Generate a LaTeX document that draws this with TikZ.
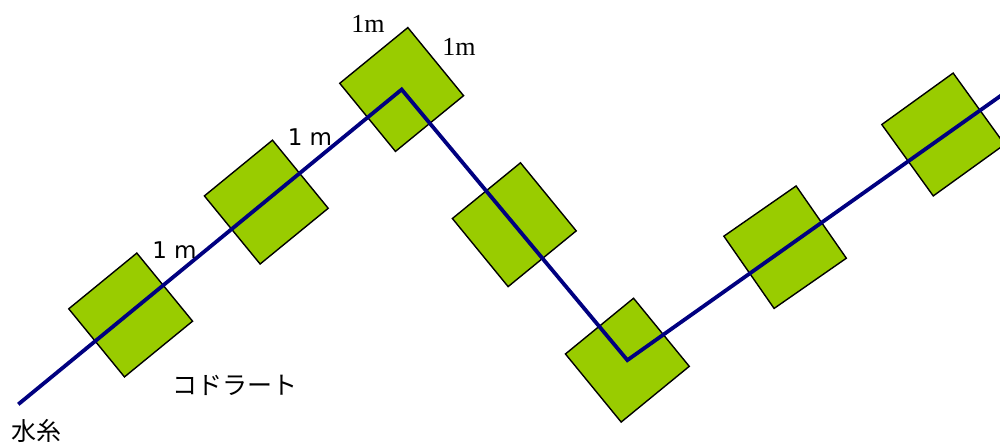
\documentclass[tikz,border=0pt]{standalone}
\usepackage{fontspec}
\newfontfamily\myserif{Liberation Serif}
\newfontfamily\mysans{DejaVu Sans}
\newfontfamily\myjp{Noto Sans CJK JP}
\definecolor{quadgreen}{RGB}{153,204,0}
\definecolor{ropeblue}{RGB}{0,0,128}
\begin{document}
\begin{tikzpicture}[x=1pt,y=1pt,
  quad/.style={rectangle, draw=black, line width=1.4pt, fill=quadgreen, minimum size=88pt, inner sep=0pt},
  rope/.style={draw=ropeblue, line width=3.8pt},
  serlabel/.style={inner sep=0pt, font=\myserif\fontsize{26}{31}\selectfont},
  sanlabel/.style={inner sep=0pt, font=\mysans\fontsize{23}{28}\selectfont},
  jplabel/.style={inner sep=0pt, font=\myjp\fontsize{25}{30}\selectfont}]
\useasboundingbox (0,0) rectangle (1000,-443);
\clip (0,0) rectangle (1000,-443);
\node[quad, rotate=39.3] (q1) at (130.65,-315.0) {};
\node[quad, rotate=39.3] (q2) at (266.3,-202.1) {};
\node[quad, rotate=39.3] (q3) at (401.65,-89.5) {};
\node[quad, rotate=39.3] (q4) at (514.3,-224.7) {};
\node[quad, rotate=39.3] (q5) at (627.35,-360.15) {};
\node[quad, rotate=34.8] (q6) at (785.1,-247.2) {};
\node[quad, rotate=35.8] (q7) at (943.2,-134.5) {};
\coordinate (start) at (18.3,-404.3);
\coordinate (end) at (1010,-89.2);
\draw[rope] (start) -- (q3.center) -- (q5.center) -- (end);
\node[serlabel] (m1) at (368,-24) {1m};
\node[serlabel] (m2) at (459,-47) {1m};
\node[sanlabel] (m3) at (310,-137) {1 m};
\node[sanlabel] (m4) at (174.5,-250.5) {1 m};
\node[jplabel] (quadrat) at (234.5,-385) {コドラート};
\node[jplabel] (string) at (36,-431) {水糸};
\end{tikzpicture}
\end{document}
